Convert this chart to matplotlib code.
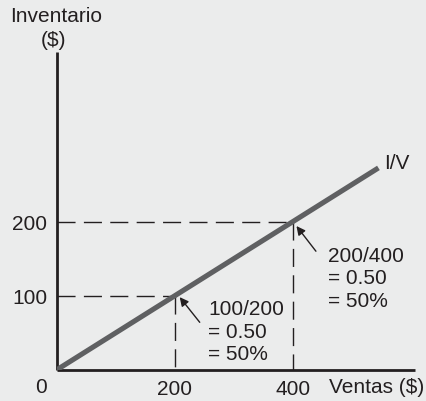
import matplotlib
matplotlib.use("Agg")
import matplotlib.pyplot as plt

plt.rcParams['font.family'] = ['Liberation Sans', 'DejaVu Sans']

# Data: inventory vs. sales (I/V ratio = 50%)
sales = [0, 200, 400, 545]
inventory = [0, 100, 200, 272.5]
x_ticks = [200, 400]
y_ticks = [100, 200]
ratio_labels = ["100/200\n= 0.50\n= 50%", "200/400\n= 0.50\n= 50%"]

BG = '#ebecec'
INK = '#231f20'
LINE = '#5f6062'
FS = 15

W, H = 427, 402
fig = plt.figure(figsize=(W / 100, H / 100), dpi=100, facecolor=BG)
ax = fig.add_axes([57 / W, (H - 370.7) / H, 358 / W, 317.7 / H])
ax.set_facecolor(BG)
ax.patch.set_alpha(0)
ax.set_xlim(0, 607)
ax.set_ylim(0, 429)

for s in ('top', 'right'):
    ax.spines[s].set_visible(False)
for s in ('left', 'bottom'):
    ax.spines[s].set_color(INK)
    ax.spines[s].set_linewidth(2)
    ax.spines[s].set_capstyle('butt')

ax.set_xticks(x_ticks)
ax.set_xticklabels([str(v) for v in x_ticks])
ax.set_yticks(y_ticks)
ax.set_yticklabels([str(v) for v in y_ticks])
ax.tick_params(length=0, labelsize=FS, colors=INK, pad=7)

# Dashed guide lines to each reference point
for xv, yv in zip(x_ticks, y_ticks):
    ax.plot([0, xv], [yv, yv], color=INK, lw=1.0, dashes=(13, 6), solid_capstyle='butt')
    ax.plot([xv, xv], [yv, 0], color=INK, lw=1.0, dashes=(13, 6), solid_capstyle='butt')

# I/V line
ax.plot(sales, inventory, color=LINE, lw=3.7, solid_capstyle='butt', zorder=3)
ax.text(sales[-1] + 10, inventory[-1] + 7, "I/V", fontsize=FS, color=INK,
        ha='left', va='center')

# Ratio annotations with arrows pointing at the line
arrow_kw = dict(arrowstyle='-|>', color=INK, lw=1.0, mutation_scale=13,
                shrinkA=0, shrinkB=0)
ax.annotate('', xy=(sales[1] + 8, inventory[1] - 2), xytext=(242, 64),
            arrowprops=arrow_kw)
ax.annotate('', xy=(sales[2] + 6, inventory[2] - 6), xytext=(439, 160),
            arrowprops=arrow_kw)

for (x0, ys), label in zip([(256, (82, 51, 21.6)), (459, (154, 124, 93))], ratio_labels):
    for yy, line in zip(ys, label.split("\n")):
        ax.text(x0, yy, line, fontsize=FS, color=INK, ha='left', va='center')

# Axis titles and origin label
fig.text(41 / W, 1 - 388 / H, "0", fontsize=FS, color=INK, ha='center', va='center')
fig.text(377 / W, 1 - 388 / H, "Ventas ($)", fontsize=FS, color=INK, ha='center', va='center')
fig.text(56 / W, 1 - 16 / H, "Inventario", fontsize=FS, color=INK, ha='center', va='center')
fig.text(53.5 / W, 1 - 41 / H, "($)", fontsize=FS, color=INK, ha='center', va='center')

fig.savefig("out.png", dpi=100, facecolor=BG)
